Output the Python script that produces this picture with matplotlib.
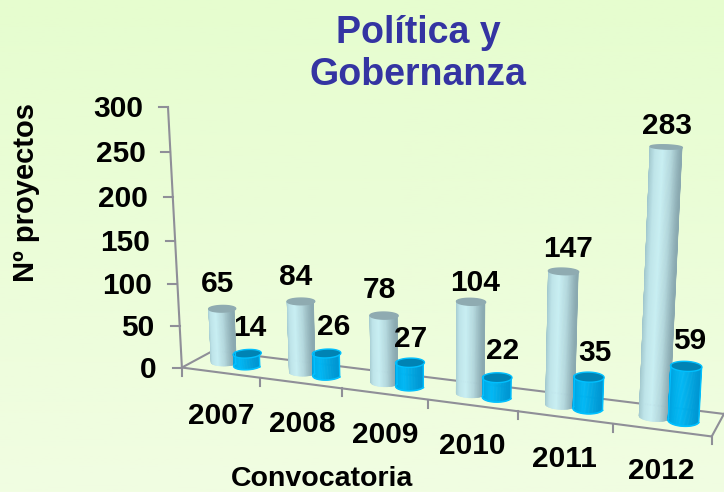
import numpy as np
import matplotlib
matplotlib.use("Agg")
import matplotlib.pyplot as plt
from matplotlib.colors import LinearSegmentedColormap
from matplotlib.patches import Polygon

plt.rcParams['font.family'] = ['Liberation Sans', 'DejaVu Sans']
plt.rcParams['font.weight'] = 'bold'

# data
years = ['2007', '2008', '2009', '2010', '2011', '2012']
proyectos = [65, 84, 78, 104, 147, 283]
otros = [14, 26, 27, 22, 35, 59]
yticks = [0, 50, 100, 150, 200, 250, 300]

# label nudges in pixels (x, y up)
label_off_a = [(-5, 25), (-5, 24), (-5, 26), (4, 19), (5, 22), (1, 21)]
label_off_b = [(2, 26), (7, 26), (1, 24), (5, 27), (6, 24), (3, 25)]
year_off = [(1, -43), (1, -41), (0, -41), (0, -41), (0, -42), (0, -41)]

# the 3d view: (category, depth, value) -> image pixel, fitted to the picture
calib_3d = [(0, 0, 0), (1, 0, 0), (2, 0, 0), (3, 0, 0), (4, 0, 0), (5, 0, 0), (6, 0, 0),
            (6, 1, 0), (0, 1, 0), (0, 0, 150), (0, 0, 300),
            (5.35, .5, 283), (5.35, .5, 0), (4.35, .5, 147), (4.35, .5, 0)]
calib_px = [(182, 368), (261, 377), (342, 388), (428, 399), (517, 411), (612, 424), (712, 437),
            (723, 413), (213, 351), (175, 241), (168, 107),
            (666, 147), (655, 418), (564, 271), (562, 405)]


def fit_view():
    A = []
    b = []
    for (X, Z, V), (u, v) in zip(calib_3d, calib_px):
        V = V / 300.0
        A.append([X, Z, V, 1, 0, 0, 0, 0, -u*X, -u*Z, -u*V])
        A.append([0, 0, 0, 0, X, Z, V, 1, -v*X, -v*Z, -v*V])
        b += [u, v]
    sol = np.linalg.lstsq(np.array(A, float), np.array(b, float), rcond=None)[0]
    return np.append(sol, 1.0).reshape(3, 4)


P = fit_view()


def proj(X, Z, V):
    X, Z, V = np.broadcast_arrays(X, Z, np.asarray(V) / 300.0)
    w = P[2, 0]*X + P[2, 1]*Z + P[2, 2]*V + P[2, 3]
    u = (P[0, 0]*X + P[0, 1]*Z + P[0, 2]*V + P[0, 3]) / w
    v = (P[1, 0]*X + P[1, 1]*Z + P[1, 2]*V + P[1, 3]) / w
    return u, v


def cylinder(ax, X, value, cmap, cap, rim, rz):
    Z = 0.5
    r = 0.155
    t = np.linspace(np.pi, 2*np.pi, 61)
    xb, yb = proj(X + r*np.cos(t), Z + rz*np.sin(t), 0)
    xt, yt = proj(X + r*np.cos(t), Z + rz*np.sin(t), value)
    for k in range(60):
        c = cmap(0.5 - 0.5*np.cos(t[k]+0.026))
        ax.add_patch(Polygon([(xb[k], yb[k]), (xb[k+1], yb[k+1]), (xt[k+1], yt[k+1]), (xt[k], yt[k])],
                             fc=c, ec=c, lw=0.4, zorder=3))
    tt = np.linspace(0, 2*np.pi, 80)
    xc, yc = proj(X + r*np.cos(tt), Z + rz*np.sin(tt), value)
    ax.add_patch(Polygon(np.c_[xc, yc], fc=cap, ec=rim, lw=1.0, zorder=3))
    if rim != cap:
        ax.plot(xb, yb, color=rim, lw=1.2, zorder=3)
        ax.plot([xb[0], xt[0]], [yb[0], yt[0]], color=rim, lw=1.0, zorder=3)
        ax.plot([xb[-1], xt[-1]], [yb[-1], yt[-1]], color=rim, lw=1.0, zorder=3)


def main():
    fig = plt.figure(figsize=(7.24, 4.92), dpi=100)
    ax = fig.add_axes([0, 0, 1, 1])

    # background
    bg = LinearSegmentedColormap.from_list('bg', ['#e6fdcf', '#f1fde2'])
    ax.imshow(np.linspace(0, 1, 256).reshape(-1, 1), cmap=bg, extent=(0, 724, 492, 0), aspect='auto')
    ax.set_xlim(0, 724)
    ax.set_ylim(492, 0)
    ax.axis('off')

    grey = '#8f8f98'
    # floor outline
    for a, b in [((0, 0), (6, 0)), ((6, 0), (6, 1)), ((6, 1), (0, 1)), ((0, 1), (0, 0))]:
        xx, yy = proj(np.array([a[0], b[0]]), np.array([a[1], b[1]]), 0)
        ax.plot(xx, yy, color=grey, lw=1.5, zorder=1)
    # value axis
    xx, yy = proj(0, 0, np.array([0, 300]))
    ax.plot(xx, yy, color=grey, lw=1.5, zorder=1)
    for v in yticks:
        x0, y0 = proj(0, 0, v)
        ax.plot([x0 - 9, x0], [y0, y0], color=grey, lw=1.5, zorder=1)
        ax.annotate(str(v), (x0, y0), xytext=(-25, -2), textcoords='offset pixels',
                    ha='right', va='center', fontsize=21.5, color='black')
    for i in range(7):
        x0, y0 = proj(i, 0, 0)
        ax.plot([x0, x0], [y0, y0 + 8], color=grey, lw=1.5, zorder=1)
    for i, y in enumerate(years):
        x0, y0 = proj(i + 0.5, 0, 0)
        ax.annotate(y, (x0, y0), xytext=year_off[i], textcoords='offset pixels',
                    ha='center', va='center', fontsize=21.5, color='black')

    # bars
    light = LinearSegmentedColormap.from_list('l', ['#8aa9b0', '#b4d8de', '#c8eff4', '#bfe5ea', '#a0c6cc'])
    blue = LinearSegmentedColormap.from_list('b', ['#0096d2', '#00a8e4', '#00b8f6', '#00aeea', '#009cda'])
    for i in range(6):
        cylinder(ax, i + 0.35, proyectos[i], light, '#8fabb1', '#8fabb1', 0.2)
        cylinder(ax, i + 0.65, otros[i], blue, '#0083b4', '#00c0ff', 0.24)

    # value labels
    for i in range(6):
        x0, y0 = proj(i + 0.35, 0.5, proyectos[i])
        ax.annotate(str(proyectos[i]), (x0, y0), xytext=label_off_a[i], textcoords='offset pixels',
                    ha='center', va='center', fontsize=21.5, color='black', zorder=5)
        x0, y0 = proj(i + 0.65, 0.5, otros[i])
        ax.annotate(str(otros[i]), (x0, y0), xytext=label_off_b[i], textcoords='offset pixels',
                    ha='center', va='center', fontsize=21.5, color='black', zorder=5)

    # titles
    ax.text(418, 54, 'Política y\nGobernanza', ha='center', va='center', fontsize=27,
            color='#3434a2', linespacing=1.22)
    ax.text(322, 479, 'Convocatoria', ha='center', va='center', fontsize=20.5, color='black')
    ax.text(26, 193, 'Nº proyectos', ha='center', va='center', fontsize=21, color='black', rotation=90)

    fig.savefig('out.png', dpi=100)


if __name__ == "__main__":
    main()
